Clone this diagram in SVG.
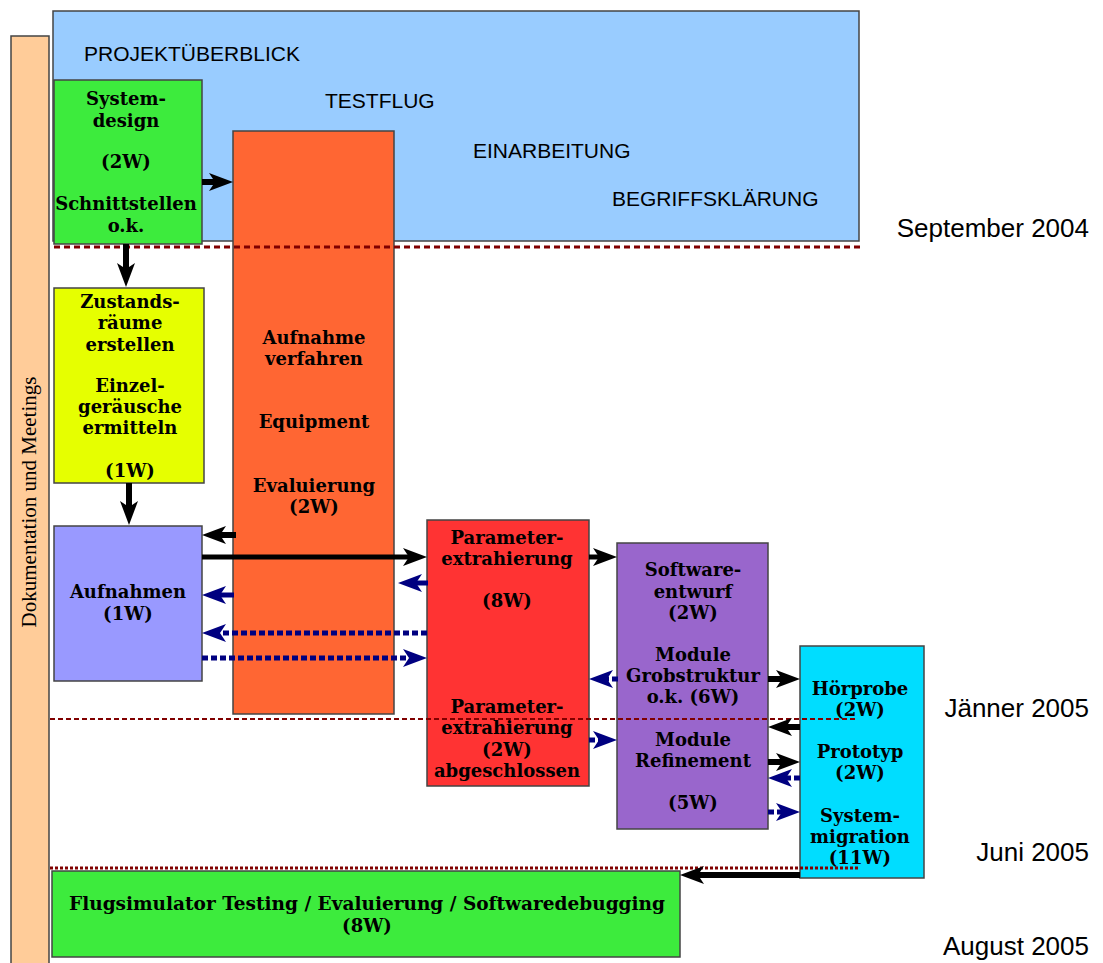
<svg xmlns="http://www.w3.org/2000/svg" width="1103" height="963" viewBox="0 0 1103 963">
<style>
.box{stroke:#444;stroke-width:1.5}
.t{font-family:"DejaVu Serif",serif;font-weight:bold;font-size:18px;fill:#000;text-anchor:middle}
.s{font-family:"Liberation Sans",Arial,sans-serif;font-size:21px;fill:#000}
.d{font-family:"Liberation Sans",Arial,sans-serif;font-size:26px;fill:#000;text-anchor:end}
.sep{stroke:#800000;fill:none}
.ab{stroke:#000;fill:none;marker-end:url(#hb)}
.an{stroke:#000080;fill:none;marker-end:url(#hn)}
</style>
<defs>
<marker id="hb" viewBox="0 0 24 18" refX="8" refY="9" markerWidth="24" markerHeight="18" markerUnits="userSpaceOnUse" orient="auto"><path d="M0,0 L24,9 L0,18 L6,9 z" fill="#000"/></marker>
<marker id="hn" viewBox="0 0 24 18" refX="8" refY="9" markerWidth="24" markerHeight="18" markerUnits="userSpaceOnUse" orient="auto"><path d="M0,0 L24,9 L0,18 L6,9 z" fill="#000080"/></marker>
</defs>
<rect width="1103" height="963" fill="#fff"/>

<g id="doku">
<rect class="box" x="11" y="36" width="38" height="940" fill="#ffcc99"/>
<text transform="translate(36,502) rotate(-90)" font-family="'Liberation Serif',serif" font-size="21" text-anchor="middle">Dokumentation und Meetings</text>
</g>

<g id="ueberblick">
<rect class="box" x="53" y="11" width="806" height="230" fill="#99ccff"/>
<text class="s" x="84" y="61">PROJEKTÜBERBLICK</text>
<text class="s" x="325" y="108">TESTFLUG</text>
<text class="s" x="473" y="158">EINARBEITUNG</text>
<text class="s" x="612" y="206">BEGRIFFSKLÄRUNG</text>
</g>

<g id="systemdesign">
<rect class="box" x="54" y="80" width="148" height="164" fill="#3deb3d"/>
<text class="t" x="126" y="105">System-</text>
<text class="t" x="126" y="127">design</text>
<text class="t" x="126" y="168">(2W)</text>
<text class="t" x="126" y="210">Schnittstellen</text>
<text class="t" x="126" y="232">o.k.</text>
</g>

<g id="aufnahmeverfahren">
<rect class="box" x="233" y="131" width="161" height="583" fill="#ff6633"/>
<text class="t" x="314" y="344">Aufnahme</text>
<text class="t" x="314" y="365">verfahren</text>
<text class="t" x="314" y="428">Equipment</text>
<text class="t" x="314" y="492">Evaluierung</text>
<text class="t" x="314" y="513">(2W)</text>
</g>

<g id="zustandsraeume">
<rect class="box" x="54" y="288" width="150" height="195" fill="#e6ff00"/>
<text class="t" x="130" y="308">Zustands-</text>
<text class="t" x="130" y="329">räume</text>
<text class="t" x="130" y="351">erstellen</text>
<text class="t" x="130" y="392">Einzel-</text>
<text class="t" x="130" y="413">geräusche</text>
<text class="t" x="130" y="434">ermitteln</text>
<text class="t" x="130" y="477">(1W)</text>
</g>

<g id="aufnahmen">
<rect class="box" x="54" y="526" width="148" height="155" fill="#9999ff"/>
<text class="t" x="128" y="598">Aufnahmen</text>
<text class="t" x="128" y="620">(1W)</text>
</g>

<g id="parameter">
<rect class="box" x="427" y="520" width="162" height="266" fill="#ff3333"/>
<text class="t" x="507" y="544">Parameter-</text>
<text class="t" x="507" y="565">extrahierung</text>
<text class="t" x="507" y="607">(8W)</text>
<text class="t" x="507" y="713">Parameter-</text>
<text class="t" x="507" y="734">extrahierung</text>
<text class="t" x="507" y="756">(2W)</text>
<text class="t" x="507" y="777">abgeschlossen</text>
</g>

<g id="software">
<rect class="box" x="617" y="543" width="151" height="286" fill="#9966cc"/>
<text class="t" x="693" y="576">Software-</text>
<text class="t" x="693" y="598">entwurf</text>
<text class="t" x="693" y="619">(2W)</text>
<text class="t" x="693" y="661">Module</text>
<text class="t" x="693" y="682">Grobstruktur</text>
<text class="t" x="693" y="703">o.k. (6W)</text>
<text class="t" x="693" y="746">Module</text>
<text class="t" x="693" y="767">Refinement</text>
<text class="t" x="693" y="809">(5W)</text>
</g>

<g id="hoerprobe">
<rect class="box" x="800" y="646" width="124" height="232" fill="#00ddff"/>
<text class="t" x="860" y="695">Hörprobe</text>
<text class="t" x="860" y="716">(2W)</text>
<text class="t" x="860" y="758">Prototyp</text>
<text class="t" x="860" y="779">(2W)</text>
<text class="t" x="860" y="822">System-</text>
<text class="t" x="860" y="843">migration</text>
<text class="t" x="860" y="864">(11W)</text>
</g>

<g id="flugsimulator">
<rect class="box" x="52" y="871" width="628" height="86" fill="#3deb3d"/>
<text class="t" x="367" y="910" style="font-size:18.5px">Flugsimulator Testing / Evaluierung / Softwaredebugging</text>
<text class="t" x="367" y="932">(8W)</text>
</g>

<g id="milestones">
<line class="sep" x1="54" y1="247" x2="861" y2="247" stroke-width="3" stroke-dasharray="6 4"/>
<line class="sep" x1="50" y1="719" x2="858" y2="719" stroke-width="2" stroke-dasharray="5 3"/>
<line class="sep" x1="50" y1="868" x2="859" y2="868" stroke-width="3" stroke-dasharray="3 2"/>
<text class="d" x="1089" y="237">September 2004</text>
<text class="d" x="1089" y="717">Jänner 2005</text>
<text class="d" x="1089" y="861">Juni 2005</text>
<text class="d" x="1089" y="955">August 2005</text>
</g>

<g id="connectors">
<line class="ab" x1="202" y1="182" x2="217" y2="182" stroke-width="6"/>
<line class="ab" x1="126" y1="244" x2="126" y2="271" stroke-width="6"/>
<line class="ab" x1="129" y1="483" x2="129" y2="509" stroke-width="6"/>
<line class="ab" x1="236" y1="535" x2="218" y2="535" stroke-width="6"/>
<line class="ab" x1="202" y1="557" x2="411" y2="557" stroke-width="5"/>
<line class="ab" x1="589" y1="557" x2="601" y2="557" stroke-width="5"/>
<line class="an" x1="428" y1="583" x2="414" y2="583" stroke-width="5"/>
<line class="an" x1="234" y1="595" x2="218" y2="595" stroke-width="5"/>
<line class="an" x1="427" y1="633" x2="218" y2="633" stroke-width="5" stroke-dasharray="6 3"/>
<line class="an" x1="202" y1="658" x2="411" y2="658" stroke-width="5" stroke-dasharray="6 3"/>
<line class="an" x1="618" y1="679" x2="605" y2="679" stroke-width="5" stroke-dasharray="6 3"/>
<line class="an" x1="589" y1="740" x2="601" y2="740" stroke-width="5" stroke-dasharray="6 3"/>
<line class="ab" x1="768" y1="679" x2="784" y2="679" stroke-width="6"/>
<line class="ab" x1="800" y1="727" x2="784" y2="727" stroke-width="6"/>
<line class="ab" x1="768" y1="762" x2="784" y2="762" stroke-width="6"/>
<line class="an" x1="800" y1="778" x2="784" y2="778" stroke-width="5" stroke-dasharray="6 3"/>
<line class="an" x1="768" y1="812" x2="784" y2="812" stroke-width="5" stroke-dasharray="6 3"/>
<line class="ab" x1="800" y1="875" x2="696" y2="875" stroke-width="6"/>
</g>
</svg>
